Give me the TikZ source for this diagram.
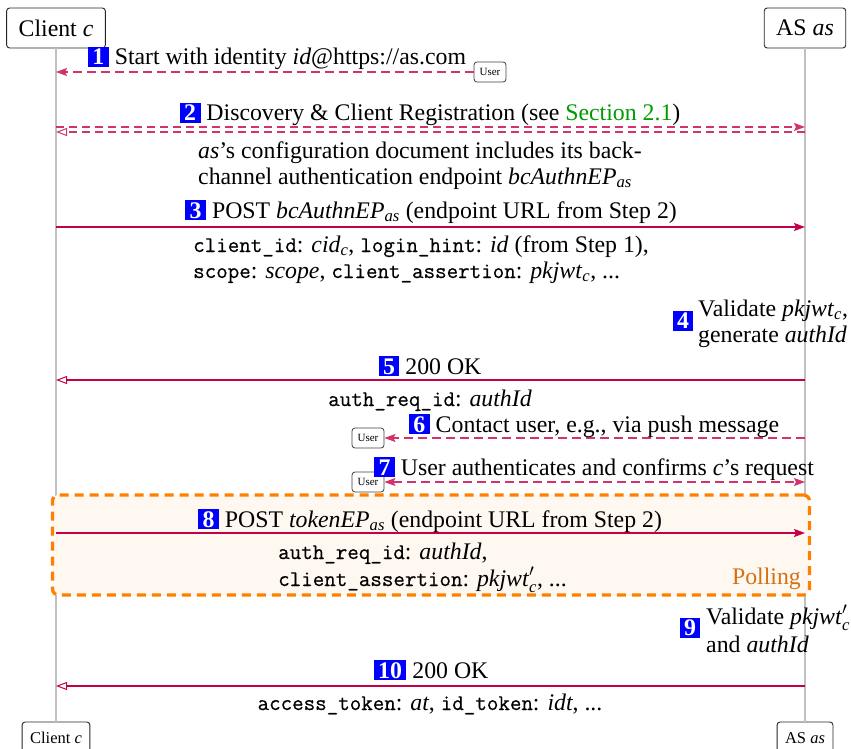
\documentclass[tikz,border=0pt]{standalone}
\usepackage{amsmath}
\usepackage{fontspec}
\setmainfont{Liberation Serif}
\setmonofont{Latin Modern Mono}[Scale=0.94, FakeBold=0.5]
\usetikzlibrary{arrows.meta}
\definecolor{msg}{RGB}{196,0,72}
\definecolor{life}{RGB}{192,192,192}
\definecolor{stepblue}{RGB}{0,0,255}
\definecolor{secgreen}{RGB}{0,155,0}
\definecolor{pollorange}{RGB}{255,128,0}
\definecolor{polltext}{RGB}{214,112,20}
\definecolor{pollfill}{RGB}{255,248,240}
\newcommand\stepnum[1]{{\setlength\fboxsep{2pt}\colorbox{stepblue}{\hspace{2.5pt}\textcolor{white}{\bfseries #1}\hspace{2.5pt}}}}
\newcommand\ssub[2]{\textit{#1}$_{\textit{#2}}$}
\newcommand\ssubp[2]{\textit{#1}$^{\prime}_{\textit{#2}}$}
\begin{document}
\begin{tikzpicture}[x=1pt,y=-1pt,
  every node/.style={font=\fontsize{23.8}{26}\selectfont, inner sep=0pt},
  actor/.style={draw=black!85, rounded corners=3pt, line width=0.9pt, fill=white,
    minimum height=40pt, inner xsep=12pt},
  actorbot/.style={actor, font=\fontsize{16.5}{18}\selectfont, minimum height=32pt, inner xsep=8pt},
  userbox/.style={draw=black!75, rounded corners=3pt, line width=0.8pt, fill=white,
    font=\fontsize{11}{12}\selectfont, minimum width=32pt, minimum height=20pt},
  lifeline/.style={draw=life, line width=1.4pt},
  msgline/.style={draw=msg, line width=1.3pt},
  msgdash/.style={draw=msg!80, line width=1.2pt, dash pattern=on 9pt off 5pt},
  headfill/.tip={Stealth[length=11pt,width=8pt,inset=2pt]},
  tipfill/.style={-headfill},
  tipboth/.style={headfill-headfill},
  tipopen/.style={-{Triangle[open,length=11pt,width=8pt,line width=1pt]}},
  lbl/.style={anchor=base},
  lblw/.style={anchor=base west},
  pollbox/.style={draw=pollorange, line width=3.2pt, dash pattern=on 9pt off 6pt,
    rounded corners=6pt, fill=pollfill}
]
\useasboundingbox (0,0) rectangle (851,749);

% actors
\node[actor] (client) at (56,28) {Client \textit{c}};
\node[actor] (as) at (805,28) {AS \textit{as}};
\node[actorbot] (clientb) at (56,738) {Client \textit{c}};
\node[actorbot] (asb) at (805,738) {AS \textit{as}};

% lifelines
\draw[lifeline] (client.south) -- (clientb.north);
\draw[lifeline] (as.south) -- (asb.north);

% polling box
\node[pollbox, minimum width=757pt, minimum height=100pt] (poll) at (431,545) {};
\node[anchor=base east, text=polltext] (polllbl) at (801,584) {Polling};

% lifeline coordinates
\foreach \n/\y in {1/72, 2a/127, 2b/132, 3/227, 5/380, 6/438, 7/482, 8/533, 10/686} {
  \coordinate (c\n) at (56,\y);
  \coordinate (a\n) at (805,\y);
}

% step 1
\node[userbox] (user1) at (490,72) {User};
\draw[msgdash, tipfill] (user1.west) -- (c1);
\node[lbl] (l1) at (277,65) {\stepnum{1} Start with identity \textit{id}@https://as.com};

% step 2
\draw[msgdash, dash pattern=on 8pt off 5pt, tipfill] (c2a) -- (a2a);
\draw[msgdash, dash pattern=on 8pt off 5pt, tipopen] (a2b) -- (c2b);
\node[lbl] (l2) at (430,121) {\stepnum{2} Discovery \& Client Registration (see \textcolor{secgreen}{Section 2.1})};
\node[lblw] (n2a) at (198,158) {\textit{as}'s configuration document includes its back-};
\node[lblw] (n2b) at (198,184) {channel authentication endpoint \ssub{bcAuthnEP}{as}};

% step 3
\draw[msgline, tipfill] (c3) -- (a3);
\node[lbl] (l3) at (431,218) {\stepnum{3} POST \ssub{bcAuthnEP}{as} (endpoint URL from Step 2)};
\node[lblw] (p3a) at (193,252) {\texttt{client\_id}: \ssub{cid}{c}, \texttt{login\_hint}: \textit{id} (from Step 1),};
\node[lblw] (p3b) at (193,278) {\texttt{scope}: \textit{scope}, \texttt{client\_assertion}: \ssub{pkjwt}{c}, ...};

% step 4
\node (s4) at (683,321) {\stepnum{4}};
\node[lblw] (v4a) at (698,316) {Validate \ssub{pkjwt}{c},};
\node[lblw] (v4b) at (698,342) {generate \textit{authId}};

% step 5
\draw[msgline, tipopen] (a5) -- (c5);
\node[lbl] (l5) at (430,374) {\stepnum{5} 200 OK};
\node[lbl] (p5) at (430,406) {\texttt{auth\_req\_id}: \textit{authId}};

% step 6
\node[userbox] (user6) at (368,438) {User};
\draw[msgdash, tipfill] (a6) -- (user6.east);
\node[lbl] (l6) at (594,432) {\stepnum{6} Contact user, e.g., via push message};

% step 7
\node[userbox] (user7) at (368,482) {User};
\draw[msgdash, tipboth] (user7.east) -- (a7);
\node[lbl] (l7) at (594,475) {\stepnum{7} User authenticates and confirms \textit{c}'s request};

% step 8
\draw[msgline, tipfill] (c8) -- (a8);
\node[lbl] (l8) at (430,527) {\stepnum{8} POST \ssub{tokenEP}{as} (endpoint URL from Step 2)};
\node[lblw] (p8a) at (278,559) {\texttt{auth\_req\_id}: \textit{authId},};
\node[lblw] (p8b) at (278,586) {\texttt{client\_assertion}: \ssubp{pkjwt}{c}, ...};

% step 9
\node (s9) at (690,628) {\stepnum{9}};
\node[lblw] (v9a) at (706,624) {Validate \ssubp{pkjwt}{c}};
\node[lblw] (v9b) at (706,652) {and \textit{authId}};

% step 10
\draw[msgline, tipopen] (a10) -- (c10);
\node[lbl] (l10) at (431,678) {\stepnum{10} 200 OK};
\node[lbl] (p10) at (430,710) {\texttt{access\_token}: \textit{at}, \texttt{id\_token}: \textit{idt}, ...};
\end{tikzpicture}
\end{document}
